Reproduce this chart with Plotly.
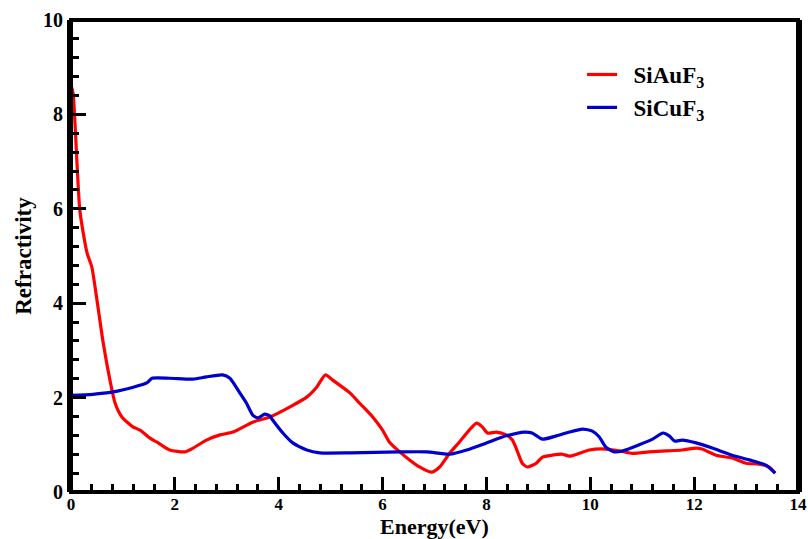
import plotly.graph_objects as go

au_energy = [0.0, 0.04, 0.17, 0.31, 0.40, 0.50, 0.62, 0.75, 0.85, 0.98, 1.19, 1.33, 1.52, 1.65, 1.90, 2.19, 2.35,
             2.61, 2.87, 3.12, 3.50, 3.83, 4.21, 4.54, 4.73, 4.90, 5.04, 5.37, 5.56, 5.81, 6.00, 6.13, 6.33,
             6.52, 6.71, 6.94, 7.10, 7.29, 7.48, 7.67, 7.81, 7.92, 8.02, 8.19, 8.38, 8.50, 8.60, 8.69, 8.79,
             8.96, 9.08, 9.27, 9.46, 9.60, 9.79, 9.98, 10.30, 10.56, 10.81, 11.13, 11.46, 11.77, 12.04,
             12.15, 12.42, 12.73, 13.00, 13.25, 13.44, 13.56]
au_refr = [8.62, 8.45, 5.97, 5.06, 4.77, 4.07, 3.16, 2.37, 1.88, 1.59, 1.38, 1.31, 1.14, 1.06, 0.89, 0.85, 0.93,
           1.10, 1.21, 1.27, 1.48, 1.59, 1.80, 2.01, 2.22, 2.48, 2.37, 2.10, 1.88, 1.59, 1.31, 1.06, 0.85,
           0.68, 0.53, 0.42, 0.53, 0.82, 1.06, 1.31, 1.46, 1.38, 1.25, 1.27, 1.21, 1.10, 0.85, 0.61, 0.53,
           0.61, 0.74, 0.78, 0.80, 0.76, 0.82, 0.89, 0.91, 0.87, 0.82, 0.85, 0.87, 0.89, 0.93,
           0.91, 0.78, 0.72, 0.61, 0.59, 0.53, 0.40]

cu_energy = [0.0, 0.42, 0.81, 1.20, 1.46, 1.56, 1.90, 2.35, 2.61, 2.92, 3.06, 3.25, 3.38, 3.50, 3.60, 3.73,
             3.83, 3.88, 4.08, 4.27, 4.54, 4.79, 5.37, 6.33, 6.85, 7.29, 7.62, 8.00, 8.38, 8.73, 8.88, 9.08,
             9.35, 9.60, 9.85, 10.04, 10.17, 10.30, 10.46, 10.62, 10.94, 11.20, 11.40, 11.52, 11.62, 11.77,
             12.04, 12.35, 12.73, 13.06, 13.38, 13.56]
cu_refr = [2.05, 2.07, 2.12, 2.22, 2.31, 2.41, 2.41, 2.39, 2.44, 2.48, 2.41, 2.10, 1.88, 1.63, 1.57, 1.65,
           1.61, 1.53, 1.25, 1.04, 0.89, 0.83, 0.83, 0.85, 0.85, 0.80, 0.89, 1.04, 1.19, 1.27, 1.25, 1.12,
           1.19, 1.27, 1.33, 1.29, 1.17, 0.95, 0.85, 0.87, 1.00, 1.12, 1.25, 1.19, 1.08, 1.10,
           1.04, 0.93, 0.78, 0.68, 0.57, 0.40]

x_ticks = [0, 2, 4, 6, 8, 10, 12, 14]
y_ticks = [0, 2, 4, 6, 8, 10]

font_family = "Liberation Serif"

fig = go.Figure()
fig.add_trace(go.Scatter(x=au_energy, y=au_refr, mode="lines", name="\u00a0\u00a0SiAuF<sub>3</sub>",
                         line=dict(color="#ff0000", width=3.2, shape="spline", smoothing=0.6)))
fig.add_trace(go.Scatter(x=cu_energy, y=cu_refr, mode="lines", name="\u00a0\u00a0SiCuF<sub>3</sub>",
                         line=dict(color="#0000cc", width=3.2, shape="spline", smoothing=0.6)))

tick_common = dict(ticks="inside", ticklen=15, tickwidth=2.5, tickcolor="black", automargin=False,
                   showgrid=False, zeroline=False)

fig.update_xaxes(range=[0, 14], tickvals=x_ticks, showline=False,
                 tickfont=dict(family=font_family, size=17, color="black", weight="bold"),
                 minor=dict(ticks="inside", ticklen=8, tickwidth=2.5, tickcolor="black", dtick=0.4, tick0=0),
                 **tick_common)
fig.update_yaxes(range=[0, 10], tickvals=y_ticks, showline=True, linecolor="black", linewidth=4, mirror=True,
                 tickfont=dict(family=font_family, size=20, color="black", weight="bold"),
                 minor=dict(ticks="inside", ticklen=8, tickwidth=2.5, tickcolor="black", dtick=0.4, tick0=0),
                 title=dict(text="Refractivity", font=dict(family=font_family, size=23, color="black", weight="bold"),
                            standoff=6),
                 **tick_common)

# plot frame
fig.add_shape(type="rect", xref="paper", yref="paper", x0=0, x1=1, y0=0, y1=1,
              line=dict(color="black", width=4), layer="above")

fig.add_annotation(text="Energy(eV)", xref="paper", yref="paper", x=0.5, y=0,
                   xanchor="center", yanchor="bottom", yshift=-48, borderpad=0, showarrow=False,
                   font=dict(family=font_family, size=22, color="black", weight="bold"))

fig.update_layout(
    width=808, height=539,
    margin=dict(l=71, r=10, t=20, b=47),
    plot_bgcolor="white", paper_bgcolor="white",
    showlegend=True,
    legend=dict(x=0.703, y=0.93, xanchor="left", yanchor="top", bgcolor="rgba(0,0,0,0)",
                font=dict(family=font_family, size=23, color="black", weight="bold"),
                tracegroupgap=0, itemwidth=30),
)

fig.write_html("out.html")
